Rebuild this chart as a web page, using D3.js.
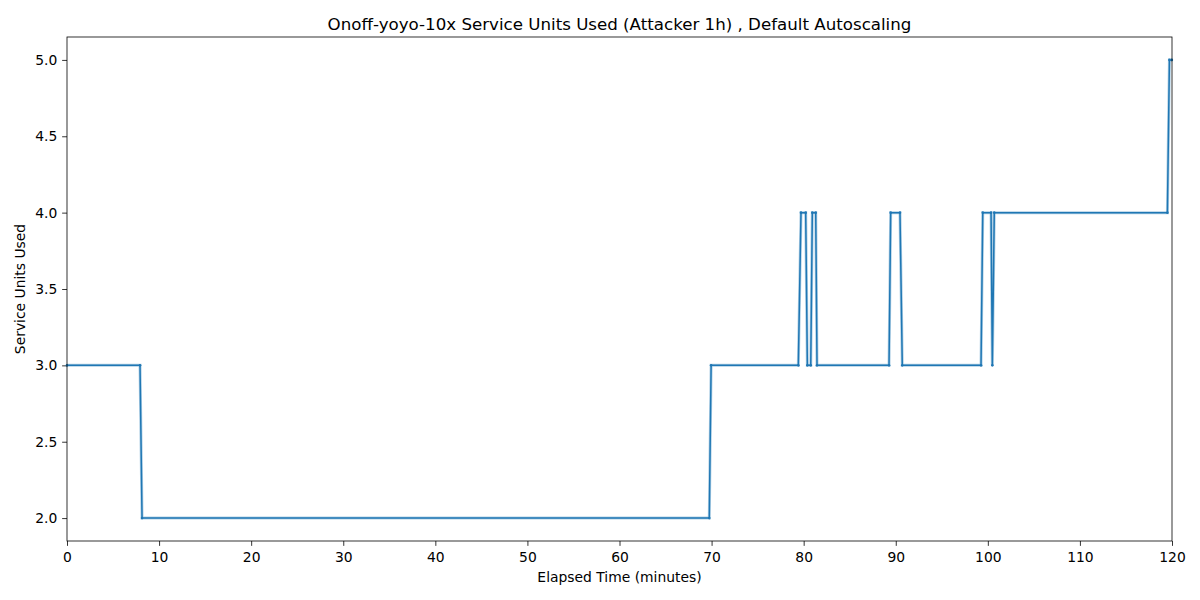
<!DOCTYPE html>
<html>
<head>
<meta charset="utf-8">
<script src="https://cdn.jsdelivr.net/npm/d3@7"></script>
<style>
  body { margin: 0; background: #fff; }
  svg { font-family: "DejaVu Sans", sans-serif; }
</style>
</head>
<body>
<div id="chart"></div>
<script>
// corner points of the step line (minutes, units)
var times = [0, 7.93, 8.15, 69.75, 69.95, 79.42, 79.71, 80.22, 80.40, 80.77, 80.94, 81.31, 81.45,
             89.27, 89.45, 90.46, 90.71, 99.26, 99.45, 100.35, 100.49, 100.70, 119.5, 119.72, 119.98];
var units = [3, 3, 2, 2, 3, 3, 4, 4, 3, 3, 4, 4, 3,
             3, 4, 4, 3, 3, 4, 4, 3, 4, 4, 5, 5];
var xTicks = [0, 10, 20, 30, 40, 50, 60, 70, 80, 90, 100, 110, 120];
var yTicks = [2.0, 2.5, 3.0, 3.5, 4.0, 4.5, 5.0];

var data = times.map(function(t, i) { return {t: t, v: units[i]}; });

// set the dimensions and margins of the graph
var margin = {top: 37, right: 28, bottom: 59, left: 67},
    width = 1200 - margin.left - margin.right,
    height = 600 - margin.top - margin.bottom;

var svg = d3.select("#chart")
  .append("svg")
    .attr("width", 1200)
    .attr("height", 600)
  .append("g")
    .attr("transform", "translate(" + margin.left + "," + margin.top + ")");

var x = d3.scaleLinear().domain([0, 120]).range([0, width]);
var y = d3.scaleLinear().domain([1.85, 5.15]).range([height, 0]);

// axes
var xAxis = svg.append("g")
  .attr("transform", "translate(0," + height + ")")
  .call(d3.axisBottom(x).tickValues(xTicks).tickSize(4.86).tickPadding(6.5).tickFormat(d3.format("d")));
var yAxis = svg.append("g")
  .call(d3.axisLeft(y).tickValues(yTicks).tickSize(4.86).tickPadding(4.86).tickFormat(d3.format(".1f")));

[xAxis, yAxis].forEach(function(a) {
  a.select(".domain").remove();
  a.selectAll("line").attr("stroke", "#000").attr("stroke-width", 0.8);
  a.selectAll("text").attr("fill", "#000").style("font-size", "13.89px").style("font-family", "DejaVu Sans");
});

// the step line, with a faint halo for the marker dots
var line = d3.line()
  .x(function(d) { return x(d.t); })
  .y(function(d) { return y(d.v); });

svg.append("path")
  .datum(data)
  .attr("fill", "none")
  .attr("stroke", "#1f77b4")
  .attr("stroke-opacity", 0.35)
  .attr("stroke-width", 3)
  .attr("d", line);

svg.append("path")
  .datum(data)
  .attr("fill", "none")
  .attr("stroke", "#1f77b4")
  .attr("stroke-width", 1.5)
  .attr("stroke-linejoin", "round")
  .attr("d", line);

svg.selectAll("circle")
  .data(data)
  .enter()
  .append("circle")
    .attr("cx", function(d) { return x(d.t); })
    .attr("cy", function(d) { return y(d.v); })
    .attr("r", 1.3)
    .style("fill", "#1f77b4");

// frame
svg.append("rect")
  .attr("width", width)
  .attr("height", height)
  .attr("fill", "none")
  .attr("stroke", "#000")
  .attr("stroke-width", 0.8);

// title and labels
svg.append("text")
  .attr("x", width / 2)
  .attr("y", -7)
  .attr("text-anchor", "middle")
  .style("font-size", "16.67px")
  .text("Onoff-yoyo-10x Service Units Used (Attacker 1h) , Default Autoscaling");

svg.append("text")
  .attr("x", width / 2)
  .attr("y", height + 41)
  .attr("text-anchor", "middle")
  .style("font-size", "13.89px")
  .text("Elapsed Time (minutes)");

svg.append("text")
  .attr("transform", "rotate(-90)")
  .attr("x", -height / 2)
  .attr("y", -42)
  .attr("text-anchor", "middle")
  .style("font-size", "13.89px")
  .text("Service Units Used");
</script>
</body>
</html>
